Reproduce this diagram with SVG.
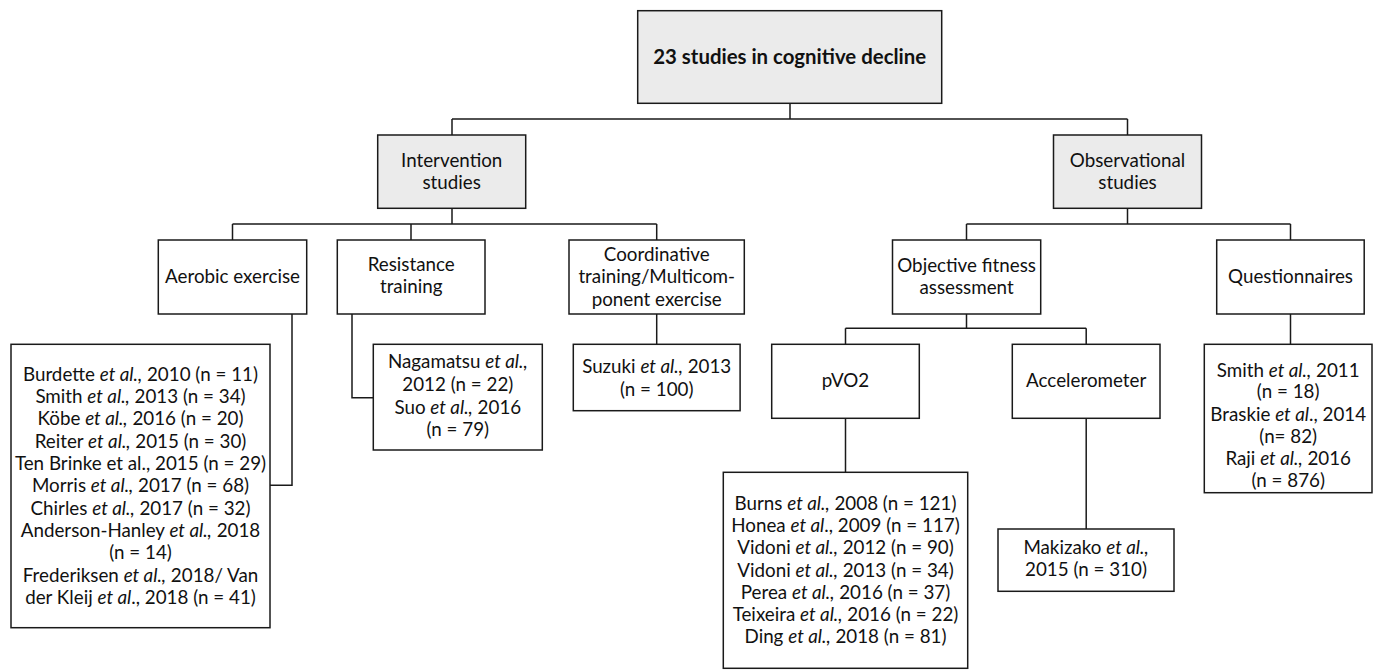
<svg xmlns="http://www.w3.org/2000/svg" width="1378" height="670" viewBox="0 0 1378 670">
<style>
.box{fill:#ffffff;stroke:#1a1a1a;stroke-width:1.5}
.gray{fill:#ebebeb}
.t{font-family:Lato,"Liberation Sans",sans-serif;font-size:18.8px;text-anchor:middle;fill:#111}
.b{font-weight:bold;font-size:20.4px}
.i{font-style:italic}
.con{stroke:#1a1a1a;stroke-width:1.5;fill:none}
</style>
<rect width="1378" height="670" fill="#ffffff"/>
<g id="connectors" class="con">
<path d="M790,103.3 V119 M452,119 H1127.5 M452,119 V135 M1127.5,119 V135"/>
<path d="M452,208.3 V224 M232.5,224 H656.7 M232.5,224 V240 M411,224 V240 M656.7,224 V240"/>
<path d="M292,314 V485.3 H270"/>
<path d="M352,314 V397.7 H373.3"/>
<path d="M656.7,314 V344.3"/>
<path d="M1127.5,208.3 V224 M966.5,224 H1290.5 M966.5,224 V240 M1290.5,224 V240"/>
<path d="M966.5,314 V328.3 M845.5,328.3 H1086.2 M845.5,328.3 V344.3 M1086.2,328.3 V344.3"/>
<path d="M845.5,418.3 V472.3"/>
<path d="M1086.2,418.3 V529"/>
<path d="M1290.5,314 V344.3"/>
</g>
<g id="root">
<rect class="box gray" x="637.7" y="10.7" width="304" height="92.6"/>
<text class="t b" x="789.7" y="64">23 studies in cognitive decline</text>
</g>
<g id="intervention">
<rect class="box gray" x="377.7" y="135" width="148" height="73.3"/>
<text class="t" x="451.7" y="166.7">Intervention</text>
<text class="t" x="451.7" y="189.3">studies</text>
</g>
<g id="observational">
<rect class="box gray" x="1053.5" y="135" width="148" height="73.3"/>
<text class="t" x="1127.5" y="166.7">Observational</text>
<text class="t" x="1127.5" y="189.3">studies</text>
</g>
<g id="aerobic">
<rect class="box" x="158.3" y="240" width="148.4" height="74"/>
<text class="t" x="232.5" y="283.3">Aerobic exercise</text>
</g>
<g id="resistance">
<rect class="box" x="337.3" y="240" width="147.7" height="74"/>
<text class="t" x="411.2" y="270.5">Resistance</text>
<text class="t" x="411.2" y="293">training</text>
</g>
<g id="coordinative">
<rect class="box" x="569" y="240" width="175.3" height="74"/>
<text class="t" x="656.7" y="261">Coordinative</text>
<text class="t" x="656.7" y="283.3">training/Multicom-</text>
<text class="t" x="656.7" y="305.5">ponent exercise</text>
</g>
<g id="objective">
<rect class="box" x="892.5" y="240" width="148.2" height="74"/>
<text class="t" x="966.6" y="271.7">Objective fitness</text>
<text class="t" x="966.6" y="293.5">assessment</text>
</g>
<g id="questionnaires">
<rect class="box" x="1216.7" y="240" width="147.5" height="74"/>
<text class="t" x="1290.5" y="283.3">Questionnaires</text>
</g>
<g id="aerobic-studies">
<rect class="box" x="11" y="344.3" width="259" height="283.4"/>
<text class="t" x="140.5" y="380.7">Burdette <tspan class="i">et al.,</tspan> 2010 (n = 11)</text>
<text class="t" x="140.5" y="403">Smith <tspan class="i">et al.,</tspan> 2013 (n = 34)</text>
<text class="t" x="140.5" y="425.3">Köbe <tspan class="i">et al.,</tspan> 2016 (n = 20)</text>
<text class="t" x="140.5" y="447.7">Reiter <tspan class="i">et al.,</tspan> 2015 (n = 30)</text>
<text class="t" x="140.5" y="470">Ten Brinke et al., 2015 (n = 29)</text>
<text class="t" x="140.5" y="492.3">Morris <tspan class="i">et al.,</tspan> 2017 (n = 68)</text>
<text class="t" x="140.5" y="514.7">Chirles <tspan class="i">et al.,</tspan> 2017 (n = 32)</text>
<text class="t" x="140.5" y="537">Anderson-Hanley <tspan class="i">et al.,</tspan> 2018</text>
<text class="t" x="140.5" y="559.3">(n = 14)</text>
<text class="t" x="140.5" y="581.7">Frederiksen <tspan class="i">et al.,</tspan> 2018/ Van</text>
<text class="t" x="140.5" y="604">der Kleij <tspan class="i">et al</tspan>., 2018 (n = 41)</text>
</g>
<g id="resistance-studies">
<rect class="box" x="373.3" y="344.3" width="169" height="105.7"/>
<text class="t" x="457.8" y="368.3">Nagamatsu <tspan class="i">et al.,</tspan></text>
<text class="t" x="457.8" y="391">2012 (n = 22)</text>
<text class="t" x="457.8" y="413.5">Suo <tspan class="i">et al.,</tspan> 2016</text>
<text class="t" x="457.8" y="436">(n = 79)</text>
</g>
<g id="coordinative-studies">
<rect class="box" x="573.3" y="344.3" width="166.8" height="66.4"/>
<text class="t" x="656.7" y="373">Suzuki <tspan class="i">et al.,</tspan> 2013</text>
<text class="t" x="656.7" y="395.5">(n = 100)</text>
</g>
<g id="pvo2">
<rect class="box" x="771.7" y="344.3" width="147.6" height="74"/>
<text class="t" x="845.5" y="386.7">pVO2</text>
</g>
<g id="accelerometer">
<rect class="box" x="1012.3" y="344.3" width="147.7" height="74"/>
<text class="t" x="1086.2" y="386.7">Accelerometer</text>
</g>
<g id="pvo2-studies">
<rect class="box" x="723.3" y="472.3" width="244.4" height="196"/>
<text class="t" x="845.5" y="510">Burns <tspan class="i">et al.,</tspan> 2008 (n = 121)</text>
<text class="t" x="845.5" y="532.2">Honea <tspan class="i">et al</tspan>., 2009 (n = 117)</text>
<text class="t" x="845.5" y="554.4">Vidoni <tspan class="i">et al.,</tspan> 2012 (n = 90)</text>
<text class="t" x="845.5" y="576.6">Vidoni <tspan class="i">et al.,</tspan> 2013 (n = 34)</text>
<text class="t" x="845.5" y="598.8">Perea <tspan class="i">et al.,</tspan> 2016 (n = 37)</text>
<text class="t" x="845.5" y="621">Teixeira <tspan class="i">et al.,</tspan> 2016 (n = 22)</text>
<text class="t" x="845.5" y="643.2">Ding <tspan class="i">et al.,</tspan> 2018 (n = 81)</text>
</g>
<g id="accelerometer-studies">
<rect class="box" x="998" y="529" width="176" height="62.3"/>
<text class="t" x="1086" y="554">Makizako <tspan class="i">et al.,</tspan></text>
<text class="t" x="1086" y="576">2015 (n = 310)</text>
</g>
<g id="questionnaire-studies">
<rect class="box" x="1204.3" y="344.3" width="167.7" height="148.4"/>
<text class="t" x="1288.2" y="376.7">Smith <tspan class="i">et al.,</tspan> 2011</text>
<text class="t" x="1288.2" y="398.3">(n = 18)</text>
<text class="t" x="1288.2" y="420.7">Braskie <tspan class="i">et al</tspan>., 2014</text>
<text class="t" x="1288.2" y="443">(n= 82)</text>
<text class="t" x="1288.2" y="465">Raji <tspan class="i">et al.,</tspan> 2016</text>
<text class="t" x="1288.2" y="486.7">(n = 876)</text>
</g>
</svg>
